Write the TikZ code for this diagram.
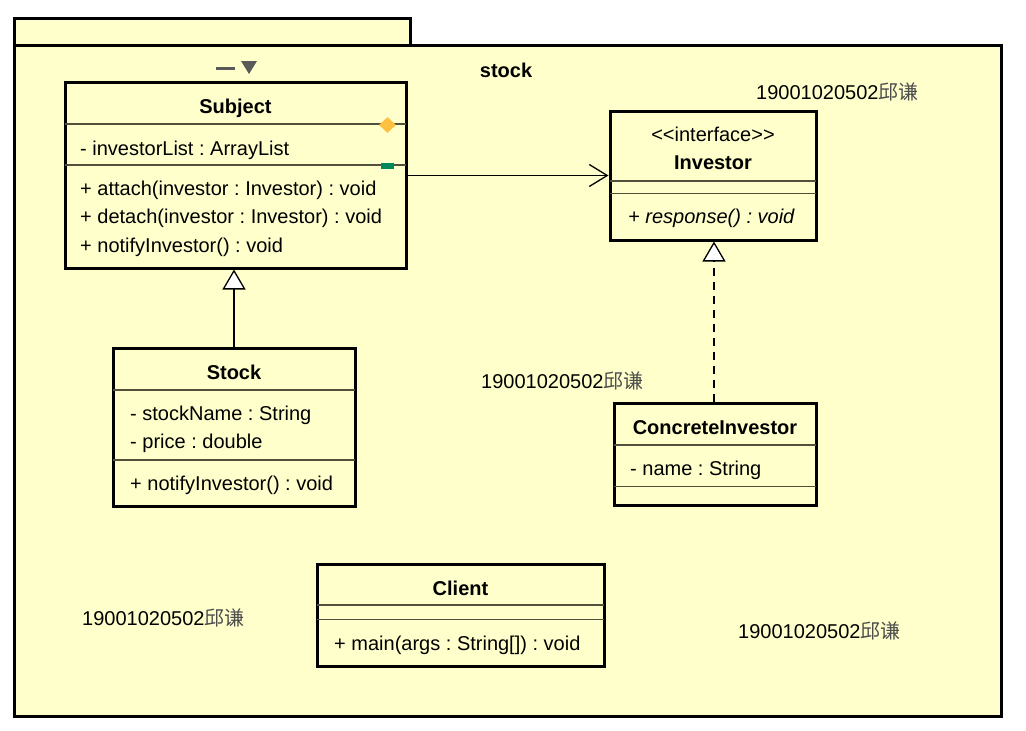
\documentclass[tikz,border=0pt]{standalone}
\usepackage{fontspec}
\setmainfont{Liberation Sans}[Ligatures=NoCommon]
\newfontfamily\cjk{Noto Sans CJK SC}
\usetikzlibrary{arrows.meta,shapes.geometric}
\frenchspacing
\definecolor{pkgfill}{RGB}{255,255,204}
\definecolor{sepcol}{RGB}{80,80,60}
\definecolor{diamondcol}{RGB}{255,192,64}
\definecolor{greencol}{RGB}{0,135,90}
\definecolor{icongray}{RGB}{90,90,90}
\tikzset{
  pkg/.style={draw=black, line width=3pt, fill=pkgfill, inner sep=0pt},
  umlbox/.style={draw=black, line width=3pt, fill=pkgfill, inner sep=0pt},
  sepline/.style={draw=sepcol, line width=1.2pt, shorten <=1.5pt, shorten >=1.5pt},
  txt/.style={anchor=base west, inner sep=0pt, font=\fontsize{20}{23}\selectfont\frenchspacing},
  itxt/.style={txt, font=\fontsize{20}{23}\selectfont\itshape\frenchspacing},
  ctitle/.style={anchor=base, inner sep=0pt, font=\fontsize{20}{23}\selectfont\bfseries},
  ctxt/.style={anchor=base, inner sep=0pt, font=\fontsize{20}{23}\selectfont},
  conn/.style={line width=1.3pt, draw=black},
  gentip/.style={-{Triangle[length=20pt,width=23pt,fill=white,line width=1.3pt]}},
  assoctip/.style={-{Straight Barb[length=18pt,width=22pt,line width=1.3pt]}},
}
\newcommand{\wm}{19001020502{\cjk\color{black!70}邱谦}}
\begin{document}
\begin{tikzpicture}[x=1pt,y=-1pt]
\useasboundingbox (0,0) rectangle (1026,731);
% package
\node[pkg, minimum width=396pt, minimum height=27pt] (pkgtab) at (212,31.5) {};
\node[pkg, minimum width=987pt, minimum height=671pt] (pkgbody) at (507.5,380.5) {};
\node[ctitle] (pkgname) at (506,77) {stock};
% icon
\draw[icongray, line width=3pt] (216,68) -- (235,68);
\fill[icongray] (241,61) -- (257,61) -- (249,74) -- cycle;

% Subject
\node[umlbox, minimum width=341pt, minimum height=186pt] (subject) at (235.5,175) {};
\draw[sepline] (subject.west |- 0,124) -- (subject.east |- 0,124);
\draw[sepline] (subject.west |- 0,165) -- (subject.east |- 0,165);
\node[ctitle] (subjT) at (235.5,113) {Subject};
\node[txt] (subjA1) at (80,155) {- investorList : ArrayList};
\node[txt] (subjM1) at (80,195) {+ attach(investor : Investor) : void};
\node[txt] (subjM2) at (80,223) {+ detach(investor : Investor) : void};
\node[txt] (subjM3) at (80,252) {+ notifyInvestor() : void};
\node[diamond, fill=diamondcol, minimum width=17pt, minimum height=16pt, inner sep=0pt] (dmark) at (387.5,125) {};
\node[fill=greencol, minimum width=13pt, minimum height=6pt, inner sep=0pt] (gmark) at (387.5,165.5) {};

% Investor
\node[umlbox, minimum width=206pt, minimum height=129pt] (investor) at (713,175.5) {};
\draw[sepline] (investor.west |- 0,181) -- (investor.east |- 0,181);
\draw[sepline] (investor.west |- 0,193.5) -- (investor.east |- 0,193.5);
\node[ctxt] (invS) at (713,141) {{<}{<}interface{>}{>}};
\node[ctitle] (invT) at (713,169) {Investor};
\node[itxt] (invM1) at (628,223) {+ response() : void};

% ConcreteInvestor
\node[umlbox, minimum width=202pt, minimum height=102pt] (concrete) at (715,454) {};
\draw[sepline] (concrete.west |- 0,445) -- (concrete.east |- 0,445);
\draw[sepline] (concrete.west |- 0,486.5) -- (concrete.east |- 0,486.5);
\node[ctitle] (conT) at (715,434) {ConcreteInvestor};
\node[txt] (conA1) at (630,475) {- name : String};

% Stock
\node[umlbox, minimum width=242pt, minimum height=158pt] (stock) at (234,427) {};
\draw[sepline] (stock.west |- 0,390) -- (stock.east |- 0,390);
\draw[sepline] (stock.west |- 0,460) -- (stock.east |- 0,460);
\node[ctitle] (stkT) at (234,379) {Stock};
\node[txt] (stkA1) at (130,420) {- stockName : String};
\node[txt] (stkA2) at (130,448) {- price : double};
\node[txt] (stkM1) at (130,490) {+ notifyInvestor() : void};

% Client
\node[umlbox, minimum width=287pt, minimum height=102pt] (client) at (460.5,615) {};
\draw[sepline] (client.west |- 0,605) -- (client.east |- 0,605);
\draw[sepline] (client.west |- 0,619.5) -- (client.east |- 0,619.5);
\node[ctitle] (cliT) at (460.5,595) {Client};
\node[txt] (cliM1) at (334,650) {+ main(args : String[]) : void};

% watermarks
\node[txt] (wm1) at (756,99) {\wm};
\node[txt] (wm2) at (481,388) {\wm};
\node[txt] (wm3) at (82,625) {\wm};
\node[txt] (wm4) at (738,638) {\wm};

% connectors
\draw[conn, assoctip] (subject.east |- investor.west) -- (investor.west);
\draw[conn, gentip] (stock.north) -- (stock.north |- subject.south);
\draw[conn, gentip, dash pattern=on 8pt off 6pt] (concrete.north -| 714,0) -- (714,0 |- investor.south);
\end{tikzpicture}
\end{document}
